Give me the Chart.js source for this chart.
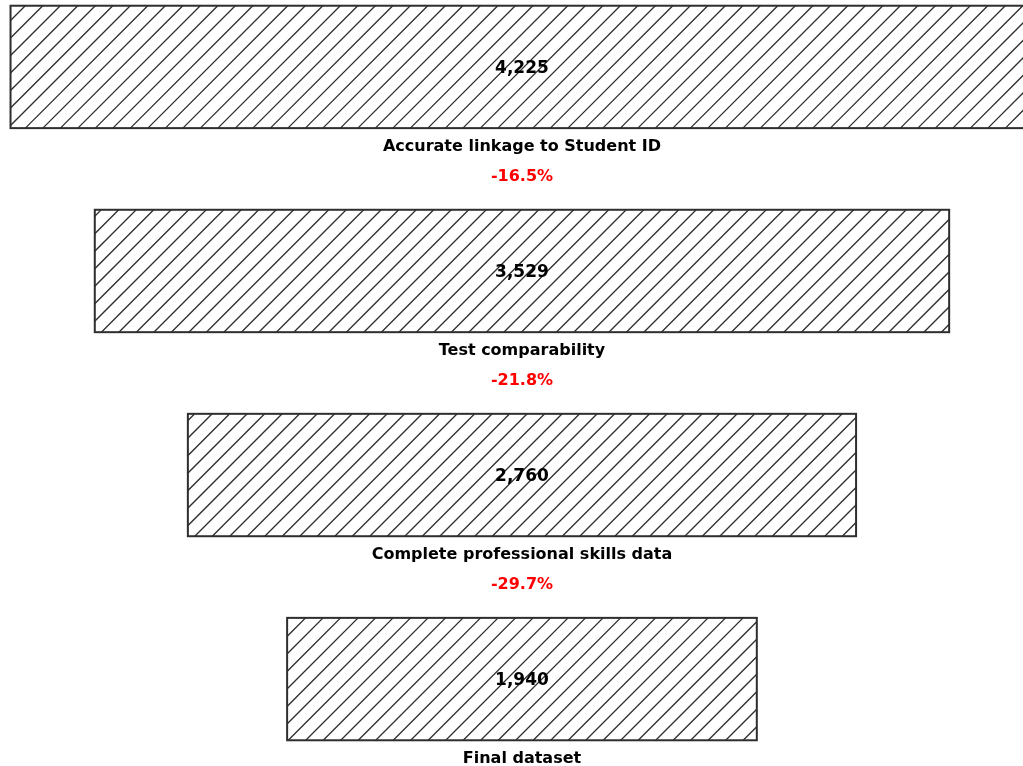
<!DOCTYPE html>
<html>
<head>
<meta charset="utf-8">
<script src="https://cdn.jsdelivr.net/npm/chart.js@4/dist/chart.umd.min.js"></script>
<style>
html,body{margin:0;padding:0;background:#fff;overflow:hidden;}
canvas{display:block;}
</style>
</head>
<body>
<canvas id="c" width="1023" height="766"></canvas>
<script>
// ---- data ----
const stages = ["Accurate linkage to Student ID", "Test comparability", "Complete professional skills data", "Final dataset"];
const counts = [4225, 3529, 2760, 1940];

const fmt = v => v.toLocaleString('en-US');
const dropLabels = counts.slice(1).map((v, i) => {
  const p = (v - counts[i]) / counts[i] * 100;
  return p.toFixed(1) + '%';
});

const FONT = '"DejaVu Sans", sans-serif';
const EDGE = '#2e2e2e';

const funnelPlugin = {
  id: 'funnel',
  afterDatasetsDraw(chart) {
    const ctx = chart.ctx;
    const meta = chart.getDatasetMeta(0);
    const area = chart.chartArea;
    meta.data.forEach(bar => {
      const p = bar.getProps(['x', 'y', 'base', 'height'], true);
      const left = Math.min(p.x, p.base), right = Math.max(p.x, p.base);
      const top = p.y - p.height / 2, bottom = p.y + p.height / 2;
      ctx.save();
      ctx.beginPath();
      ctx.rect(Math.max(left, area.left), top, Math.min(right, area.right) - Math.max(left, area.left), bottom - top);
      ctx.clip();
      ctx.strokeStyle = EDGE;
      ctx.lineWidth = 1.3;
      const sp = 17.5, phase = 13.5;
      const kMin = left + top, kMax = right + bottom;
      let k = phase + Math.floor((kMin - phase) / sp) * sp;
      ctx.beginPath();
      for (; k <= kMax + sp; k += sp) {
        ctx.moveTo(k - bottom, bottom);
        ctx.lineTo(k - top, top);
      }
      ctx.stroke();
      ctx.restore();
      ctx.save();
      ctx.strokeStyle = EDGE;
      ctx.lineWidth = 2;
      ctx.strokeRect(left, top, right - left, bottom - top);
      ctx.restore();
    });
    ctx.save();
    ctx.textAlign = 'center';
    ctx.textBaseline = 'middle';
    meta.data.forEach((bar, i) => {
      const p = bar.getProps(['x', 'y', 'base', 'height'], true);
      const cx = (p.x + p.base) / 2;
      const bottom = p.y + p.height / 2;
      ctx.fillStyle = '#000';
      ctx.font = 'bold 17px ' + FONT;
      ctx.fillText(fmt(counts[i]), cx, p.y + 2);
      ctx.font = 'bold 16px ' + FONT;
      ctx.fillText(stages[i], cx, bottom + 19);
      if (i < dropLabels.length) {
        ctx.fillStyle = '#ff0000';
        ctx.fillText(dropLabels[i], cx, bottom + 49);
      }
    });
    ctx.restore();
  }
};

new Chart(document.getElementById('c'), {
  type: 'bar',
  data: {
    datasets: [{
      data: counts.map((v, i) => ({ y: i, x: [-v / 2, v / 2] })),
      backgroundColor: 'rgba(0,0,0,0)',
      borderWidth: 0,
      barThickness: 122.4
    }]
  },
  options: {
    indexAxis: 'y',
    responsive: false,
    animation: false,
    layout: { padding: 0 },
    plugins: { legend: { display: false }, tooltip: { enabled: false } },
    scales: {
      x: { type: 'linear', min: -2156, max: 2069.5, display: false, offset: false },
      y: { type: 'linear', min: -0.328, max: 3.426, reverse: true, display: false, offset: false }
    }
  },
  plugins: [funnelPlugin]
});
</script>
</body>
</html>
